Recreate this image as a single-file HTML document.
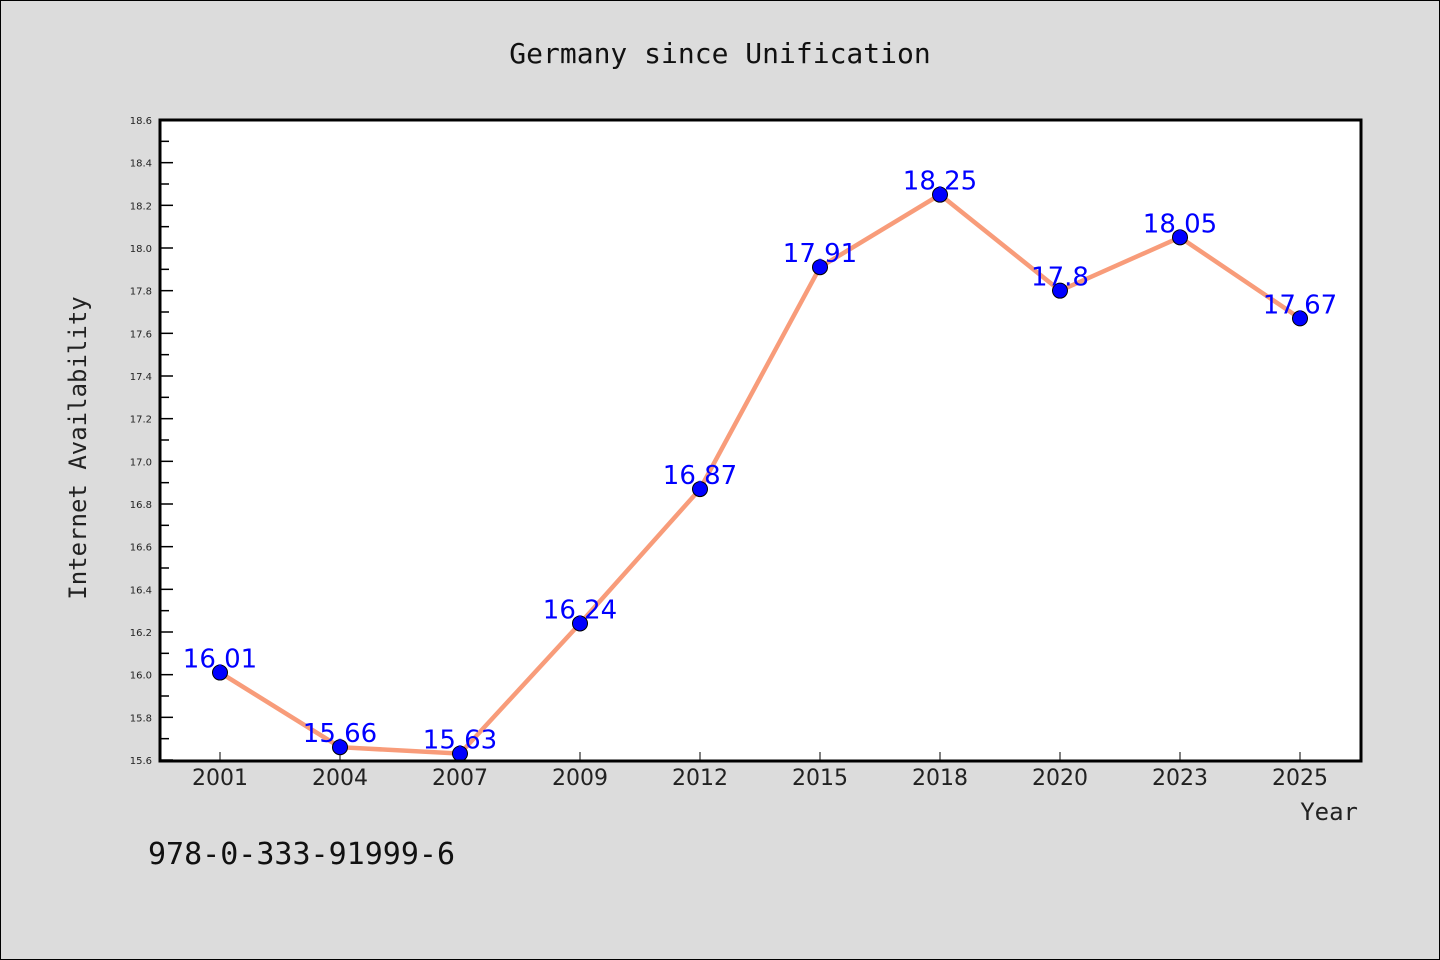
<!DOCTYPE html>
<html><head><meta charset="utf-8"><style>
body{margin:0;background:#dcdcdc;}
svg{display:block}
</style></head><body>
<svg width="1440" height="960" xmlns="http://www.w3.org/2000/svg">
<rect x="0.5" y="0.5" width="1439" height="959" fill="#dcdcdc" stroke="#000"/>
<text x="720" y="63" text-anchor="middle" font-family="DejaVu Sans Mono, monospace" font-size="28" fill="#111">Germany since Unification</text>
<rect x="160" y="120" width="1201" height="641" fill="#fff"/>
<g id="axes"></g>
<g id="marks"></g>
<rect x="160" y="120" width="1201" height="641" fill="none" stroke="#000" stroke-width="3"/>
<text x="86" y="448" transform="rotate(-90 86 448)" text-anchor="middle" font-family="DejaVu Sans Mono, monospace" font-size="24" fill="#222">Internet Availability</text>
<text x="1358" y="820" text-anchor="end" font-family="DejaVu Sans Mono, monospace" font-size="24" fill="#222">Year</text>
<text x="148" y="864" font-family="DejaVu Sans Mono, monospace" font-size="30" fill="#111">978-0-333-91999-6</text>
</svg>
<script>
const categories=["2001","2004","2007","2009","2012","2015","2018","2020","2023","2025"];
const values=[16.01,15.66,15.63,16.24,16.87,17.91,18.25,17.8,18.05,17.67];
const labels=["16.01","15.66","15.63","16.24","16.87","17.91","18.25","17.8","18.05","17.67"];
const yTicks=["15.6","15.8","16.0","16.2","16.4","16.6","16.8","17.0","17.2","17.4","17.6","17.8","18.0","18.2","18.4","18.6"];
const yMin=15.6,yMax=18.6;
const NS="http://www.w3.org/2000/svg";
function x(i){return 220+i*120;}
function y(v){return 760-(v-yMin)/(yMax-yMin)*640;}
function mk(t,a,p){const e=document.createElementNS(NS,t);for(const k in a)e.setAttribute(k,a[k]);p.appendChild(e);return e;}
const ax=document.getElementById('axes'),mg=document.getElementById('marks');
yTicks.forEach((t,i)=>{const v=parseFloat(t),yy=y(v);
 const l=mk('line',{x1:160,x2:173,y1:yy,y2:yy,stroke:'#000','stroke-width':1.5},ax);
 
 
 const tx=mk('text',{x:152,y:yy+4,'text-anchor':'end','font-family':'DejaVu Sans, sans-serif','font-size':10,fill:'#222'},ax);tx.textContent=t;
 
 
 if(i<yTicks.length-1){const ym=y(v+0.1);const m=mk('line',{x1:160,x2:169,y1:ym,y2:ym,stroke:'#000','stroke-width':1.5},ax);
 
 }
});
categories.forEach((c,i)=>{
 const l=mk('line',{x1:x(i),x2:x(i),y1:760,y2:752,stroke:'#000','stroke-width':1},ax);
 
 
 const t=mk('text',{x:x(i),y:785,'text-anchor':'middle','font-family':'DejaVu Sans, sans-serif','font-size':22,fill:'#222'},ax);t.textContent=c;
 
 
});
const pl=mk('polyline',{points:values.map((v,i)=>x(i)+','+y(v)).join(' '),fill:'none',stroke:'#f89c7a','stroke-width':4.5},mg);


values.forEach((v,i)=>{
 const c=mk('circle',{cx:x(i),cy:y(v),r:7.5,fill:'#0000ff',stroke:'#000','stroke-width':1},mg);
 
 
 const t=mk('text',{x:x(i),y:y(v)-5,'text-anchor':'middle','font-family':'DejaVu Sans, sans-serif','font-size':26,fill:'#0000ff'},mg);t.textContent=labels[i];
 
 
});
</script>
</body></html>
